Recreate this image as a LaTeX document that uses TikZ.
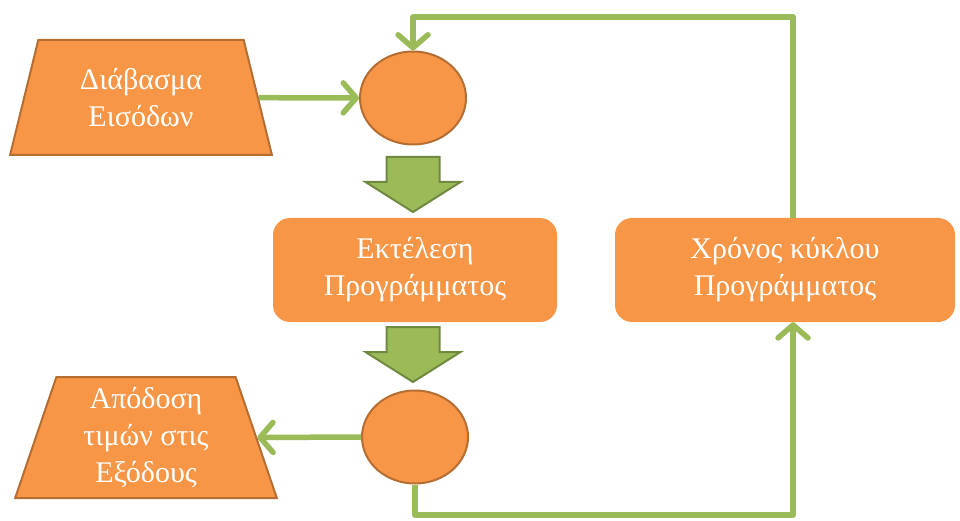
\documentclass[tikz,border=0pt]{standalone}
\usepackage{fontspec}
\setmainfont{Liberation Serif}
\usetikzlibrary{shapes.geometric, arrows.meta}

\definecolor{taronja}{HTML}{F79646}
\definecolor{vora}{HTML}{B66D31}
\definecolor{verd}{HTML}{9BBB59}
\definecolor{verdfosc}{HTML}{71893F}

\tikzset{
    textbloc/.style={text=white, align=center, font=\fontsize{30}{37}\selectfont, inner sep=0pt},
    trapezi/.style={textbloc, trapezium, trapezium stretches=true,
        trapezium left angle=74, trapezium right angle=74,
        fill=taronja, draw=vora, line width=2pt, minimum width=262, minimum height=115},
    cercle/.style={ellipse, fill=taronja, draw=vora, line width=2pt,
        minimum width=106, minimum height=93, inner sep=0pt},
    caixa/.style={textbloc, rectangle, rounded corners=17pt, fill=taronja, minimum height=104},
    flux/.style={draw=verd, line width=5.5pt, line join=round,
        -{Straight Barb[round, length=13pt, width=30pt]}},
    fletxa/.style={fill=verd, draw=verdfosc, line width=2pt, line join=miter}
}

\begin{document}
\begin{tikzpicture}[x=1pt, y=1pt]
    \useasboundingbox (0,0) rectangle (960,520);

    % 1. ENTRADES, SORTIDES I BLOCS DEL CICLE
    \node[trapezi] (entrada) at (141, 422.5) {Διάβασμα\\Εισόδων};
    \node[cercle] (llegir) at (413, 422) {};
    \node[caixa, minimum width=284] (exec) at (415, 250) {Εκτέλεση\\Προγράμματος};
    \node[caixa, minimum width=340] (cicle) at (785, 250) {Χρόνος κύκλου\\Προγράμματος};
    \node[cercle] (escriure) at (415, 83) {};
    \node[trapezi, minimum height=121] (sortida) at (146, 82.5) {Απόδοση\\τιμών στις\\Εξόδους};

    % 2. FLETXES GRUIXUDES CAP AVALL
    \foreach \yt in {363, 193} {
        \draw[fletxa] (386.5,\yt) -- (439.5,\yt) -- (439.5,\yt-25) -- (460.5,\yt-25)
            -- (413,\yt-55) -- (365.5,\yt-25) -- (386.5,\yt-25) -- cycle;
    }

    % 3. CONNEXIONS I TORNADA DEL CICLE
    \coordinate (baix) at (793, 5);
    \coordinate (dalt) at (793, 503);
    \draw[flux] (entrada) -- (llegir);
    \draw[flux] (escriure.west) -- (sortida.east);
    \draw[flux] (escriure.south) |- (baix) -- (baix |- cicle.south);
    \draw[flux] (dalt |- cicle.north) -- (dalt) -| (llegir.north);

\end{tikzpicture}
\end{document}
